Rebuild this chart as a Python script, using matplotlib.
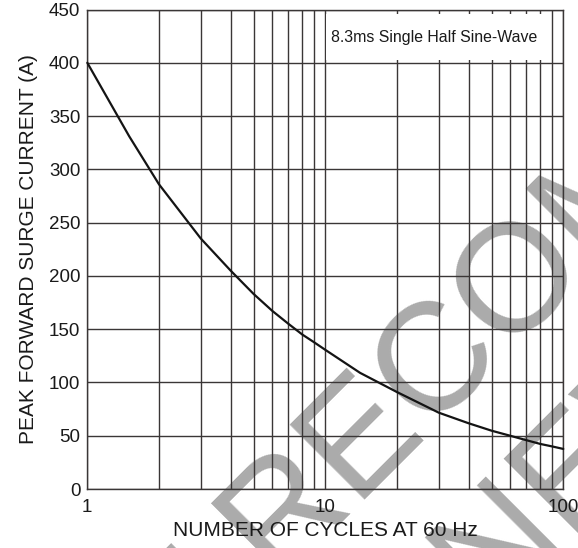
import matplotlib
matplotlib.use("Agg")
import matplotlib.pyplot as plt
from matplotlib.patches import Rectangle
from matplotlib.ticker import FixedLocator, FixedFormatter, NullFormatter

plt.rcParams['font.family'] = ['Liberation Sans', 'DejaVu Sans']

# Data
cycles = [1, 1.5, 2, 3, 4, 5, 6, 7, 8, 9, 10, 14, 20, 30, 40, 50, 60, 70, 80, 90, 100]
surge_current = [400, 331, 286, 235, 205, 183, 167, 155, 145, 137.5, 130.6, 109, 91, 71.6, 61.7,
                 54.7, 49.9, 45.8, 42.3, 39.9, 37.6]

x_ticks = [1, 10, 100]
x_tick_labels = ["1", "10", "100"]
y_ticks = [0, 50, 100, 150, 200, 250, 300, 350, 400, 450]
y_tick_labels = [str(v) for v in y_ticks]
minor_x = [2, 3, 4, 5, 6, 7, 8, 9, 20, 30, 40, 50, 60, 70, 80, 90]

x_label = "NUMBER OF CYCLES AT 60 Hz"
y_label = "PEAK FORWARD SURGE CURRENT (A)"
note = "8.3ms Single Half Sine-Wave"
watermark_lines = ["NOT RECOMMENDED", "FOR NEW DESIGN"]

W, H = 578, 548
fig = plt.figure(figsize=(W / 100, H / 100), dpi=100)
ax = fig.add_axes([87.3 / W, 1 - 489 / H, (563.3 - 87.3) / W, (489 - 9.5) / H])
ax.patch.set_alpha(0)

# watermark behind everything
wm_color = '#ababab'
fs_wm = 111
fig.text(19 / W, 1 - 845 / H, watermark_lines[0], fontsize=fs_wm, color=wm_color,
         rotation=45, rotation_mode='anchor', ha='left', va='baseline', zorder=-5)
fig.text(231 / W, 1 - 881 / H, watermark_lines[1], fontsize=fs_wm, color=wm_color,
         rotation=45, rotation_mode='anchor', ha='left', va='baseline', zorder=-5)

ax.set_xscale('log')
ax.set_xlim(1, 100)
ax.set_ylim(0, 450)

grid_color = '#3a3636'
ax.xaxis.set_major_locator(FixedLocator(x_ticks))
ax.xaxis.set_major_formatter(FixedFormatter(x_tick_labels))
ax.xaxis.set_minor_locator(FixedLocator(minor_x))
ax.xaxis.set_minor_formatter(NullFormatter())
ax.set_yticks(y_ticks)
ax.set_yticklabels(y_tick_labels)

ax.grid(True, which='both', axis='x', color=grid_color, linewidth=1.0, zorder=1)
ax.grid(True, which='major', axis='y', color=grid_color, linewidth=1.0, zorder=1)
ax.set_axisbelow(True)

for s in ax.spines.values():
    s.set_color(grid_color)
    s.set_linewidth(1.0)

ax.tick_params(axis='both', which='both', length=0, labelsize=13.5, colors='#1a1a1a')
ax.tick_params(axis='x', pad=7)
ax.tick_params(axis='y', pad=5)

# white box behind the note
ax.add_patch(Rectangle((10.07, 403), 84.5 - 10.07, 445.5 - 403, facecolor='white',
                       edgecolor='none', zorder=2))
ax.text(10 ** ((433.7 - 87.3) / 238.0), (489 - 38) / 1.064, note, fontsize=11.4,
        ha='center', va='center', color='#1a1a1a', zorder=3)

ax.plot(cycles, surge_current, color='#141414', linewidth=1.6, zorder=4,
        solid_joinstyle='round', solid_capstyle='round', clip_on=False)

ax.set_xlabel(x_label, fontsize=15, color='#1a1a1a', labelpad=4)
ax.set_ylabel(y_label, fontsize=15, color='#1a1a1a', labelpad=8)

fig.savefig('out.png', dpi=100)
